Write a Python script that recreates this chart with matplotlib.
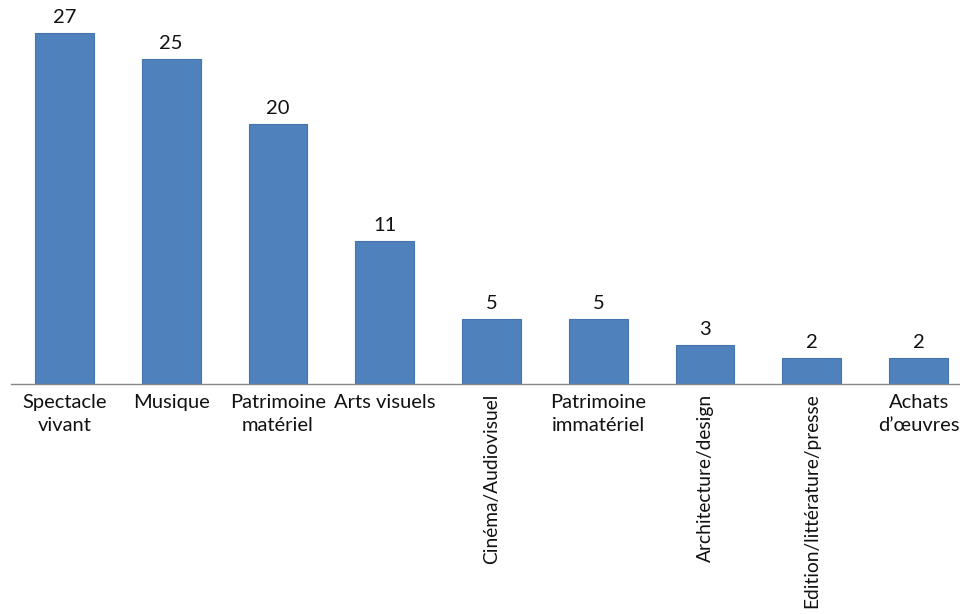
import matplotlib.pyplot as plt

plt.rcParams['font.family'] = ['Lato', 'DejaVu Sans']

categories = ["Spectacle\nvivant", "Musique", "Patrimoine\nmatériel", "Arts visuels",
              "Cinéma/Audiovisuel", "Patrimoine\nimmatériel", "Architecture/design",
              "Edition/littérature/presse", "Achats\nd\u2019œuvres"]
counts = [27, 25, 20, 11, 5, 5, 3, 2, 2]
vertical_labels = ["Cinéma/Audiovisuel", "Architecture/design", "Edition/littérature/presse"]

fig = plt.figure(figsize=(9.6, 6.14), dpi=100)
# axes run a little past the right edge of the figure
ax = fig.add_axes([11 / 960, (614 - 384) / 614, 961 / 960, 384 / 614])

xs = list(range(len(categories)))
rects = ax.bar(xs, counts, width=0.55, color="#4F81BD", edgecolor="#4675AE", linewidth=0.8)
ax.bar_label(rects, labels=[str(c) for c in counts], padding=5, fontsize=14.5, color="#111111")

ax.set_xlim(-0.5, len(categories) - 0.5)
ax.set_ylim(0, 384 / 13)

ax.set_xticks(xs, categories, fontsize=14.5, color="#111111")
for tick in ax.get_xticklabels():
    if tick.get_text() in vertical_labels:
        tick.set_rotation(90)
        tick.set_fontsize(13.8)
    tick.set_multialignment("center")
    tick.set_linespacing(1.45)
ax.tick_params(axis="x", length=0, pad=7)

ax.set_yticks([])
for side in ["left", "right", "top"]:
    ax.spines[side].set_visible(False)
ax.spines["bottom"].set_color("#868686")
ax.spines["bottom"].set_linewidth(1.0)

plt.savefig("out.png", dpi=100)
